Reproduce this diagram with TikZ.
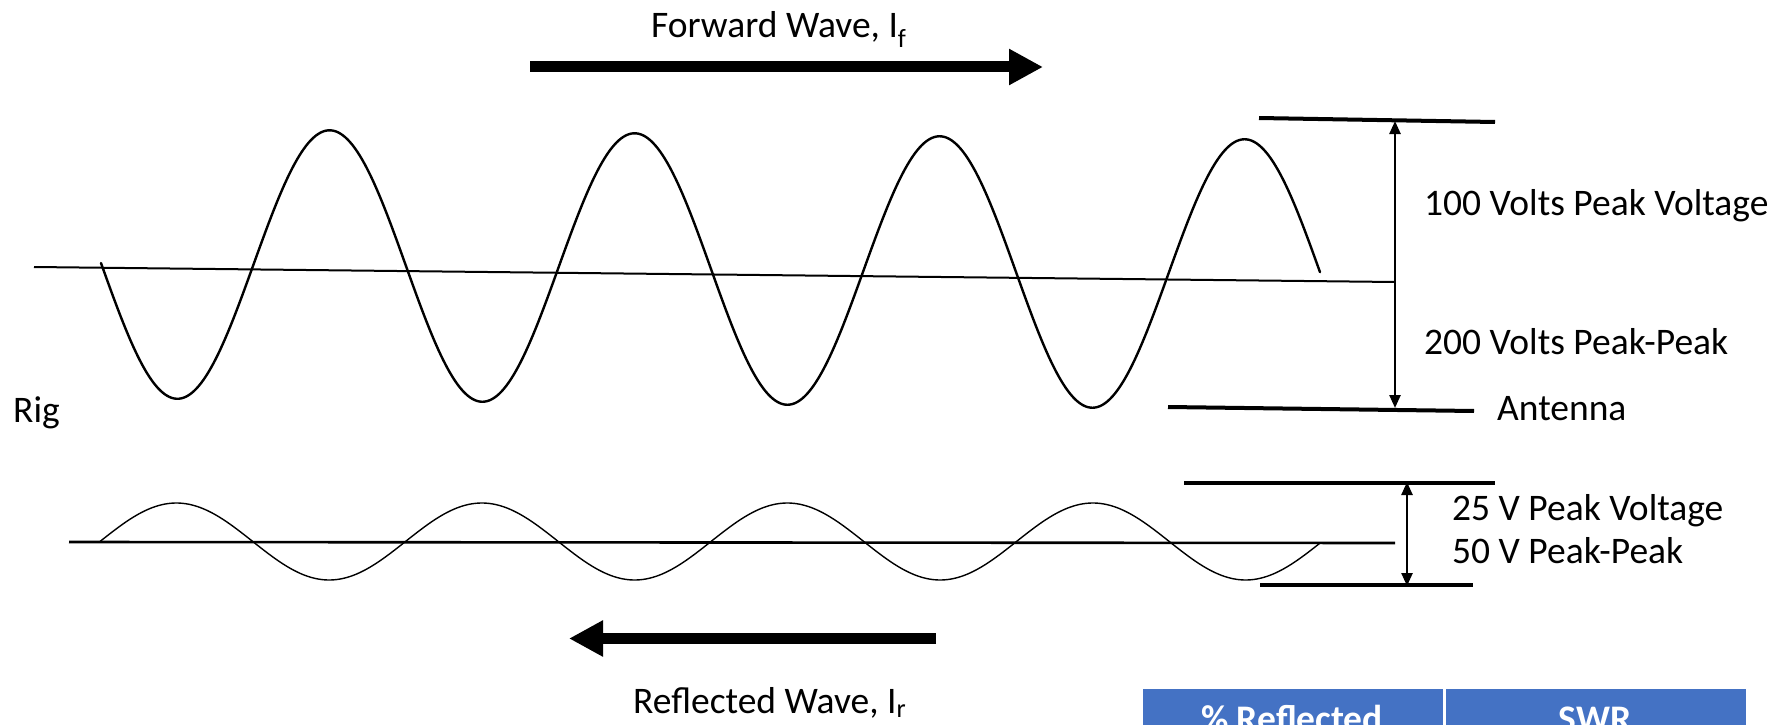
\documentclass[tikz,border=0pt]{standalone}
\usepackage{fontspec}
\setmainfont{Carlito}
\usetikzlibrary{arrows.meta}
\definecolor{tblue}{HTML}{4472C4}
\begin{document}
\begin{tikzpicture}[x=1pt,y=-1pt,
  lbl/.style={font=\fontsize{37.5}{45}\selectfont, inner sep=0pt, anchor=base west},
  hdr/.style={font=\fontsize{37.5}{45}\selectfont\bfseries, text=white, inner sep=0pt, anchor=base},
  cell/.style={fill=tblue, draw=white, line width=1.5pt, minimum width=302pt, minimum height=70pt, inner sep=0pt, anchor=north west},
  bigwave/.style={line width=2.4pt, line join=round, line cap=round},
  smallwave/.style={line width=1.4pt, line join=round, line cap=round},
  axisline/.style={line width=2pt},
  lowaxis/.style={line width=2.6pt},
  marker/.style={line width=4pt},
  blockarrow/.style={line width=11pt, -{Triangle[length=34pt,width=34pt]}},
  dblarrow/.style={line width=2.4pt, {Triangle[length=13pt,width=11pt]}-{Triangle[length=13pt,width=11pt]}}
]
\useasboundingbox (0,0) rectangle (1792,725);

% Forward wave label and arrow
\node[lbl] (fwdlbl) at (651,38) {Forward Wave, I\textsubscript{f}};
\coordinate (fwdS) at (530,67);
\coordinate (fwdE) at (1043,67);
\draw[blockarrow] (fwdS) -- (fwdE);

% Main wave
\coordinate (axS) at (34,267);
\coordinate (axE) at (1395,282);
\draw[axisline] (axS) -- (axE);
\draw[bigwave] plot[domain=101:1320, samples=500] (\x,{264.5+(\x-250)*0.0098+135*sin(((\x-101)/305)*360)});

% Main markers
\coordinate (mtL) at (1259,118);
\coordinate (mtR) at (1495,122);
\coordinate (mbL) at (1168,407);
\coordinate (mbR) at (1474,411);
\draw[marker] (mtL) -- (mtR);
\draw[marker] (mbL) -- (mbR);
\coordinate (maT) at (1395,121);
\coordinate (maB) at (1395,408);
\draw[dblarrow] (maT) -- (maB);

\node[lbl] (pk100) at (1424,215) {100 Volts Peak Voltage};
\node[lbl] (pp200) at (1424,354) {200 Volts Peak-Peak};
\node[lbl] (ant) at (1497,420) {Antenna};
\node[lbl] (rig) at (13,422) {Rig};

% Reflected wave
\coordinate (laS) at (69,542);
\coordinate (laE) at (1395,543);
\draw[lowaxis] (laS) -- (laE);
\draw[smallwave] plot[domain=100:1320, samples=500] (\x,{541.5-38.5*sin(((\x-100)/305.5)*360)});

\coordinate (ltL) at (1184,483);
\coordinate (ltR) at (1495,483);
\coordinate (lbL) at (1260,585);
\coordinate (lbR) at (1473,585);
\draw[marker] (ltL) -- (ltR);
\draw[marker] (lbL) -- (lbR);
\coordinate (laT) at (1407,482);
\coordinate (laB) at (1407,586);
\draw[dblarrow] (laT) -- (laB);

\node[lbl] (pk25) at (1452,520) {25 V Peak Voltage};
\node[lbl] (pp50) at (1452,563) {50 V Peak-Peak};

\coordinate (refS) at (936,638.5);
\coordinate (refE) at (569,638.5);
\draw[blockarrow] (refS) -- (refE);
\node[lbl] (reflbl) at (633,713) {Reflected Wave, I\textsubscript{r}};

% Table header (cut off by the page edge)
\begin{scope}
\clip (0,0) rectangle (1792,725);
\node[cell] (c1) at (1141,687) {};
\node[cell] (c2) at (1444,687) {};
\node[hdr] (c1t) at (1292,731) {\% Reflected};
\node[hdr] (c2t) at (1595,731) {SWR};
\end{scope}
\end{tikzpicture}
\end{document}
